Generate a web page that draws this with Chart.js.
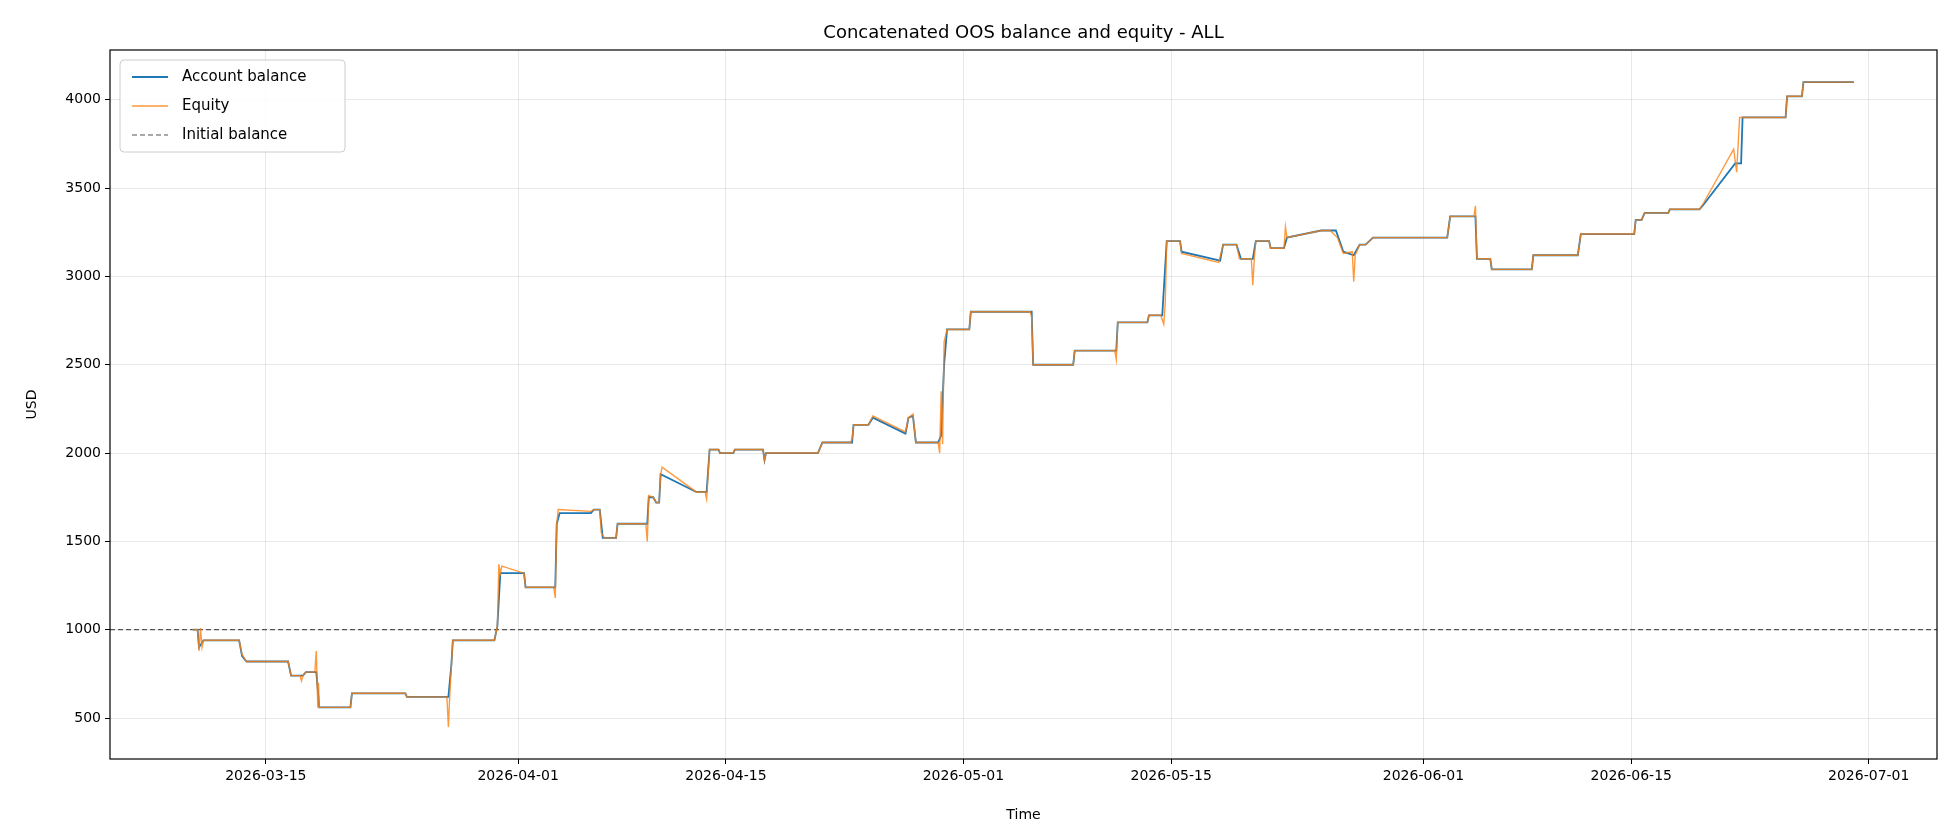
<!DOCTYPE html>
<html lang="en">
  <head>
    <meta charset="UTF-8" />
    <title>OOS balance and equity</title>
    <script src="https://cdn.jsdelivr.net/npm/chart.js@4"></script>
    <style>
      body { margin: 0; background: #fff; }
      #wrap { width: 1960px; height: 840px; }
    </style>
  </head>
  <body>
    <div id="wrap"><canvas id="myChart" width="1960" height="840"></canvas></div>
    <script>
    // days counted from 2026-03-01 (day 0)
    const balanceDays = [9.1,9.4,9.5,9.8,12.2,12.4,12.7,15.5,15.7,16.5,16.7,17.4,17.6,19.7,19.8,23.4,23.5,26.3,26.5,26.6,29.4,29.6,29.8,31.4,31.5,33.5,33.6,33.8,35.9,36.1,36.5,36.7,37.6,37.7,39.7,39.8,40.1,40.3,40.5,40.6,43.0,43.7,43.9,44.5,44.6,45.5,45.6,47.5,47.6,47.7,51.2,51.5,53.5,53.6,54.6,54.9,57.1,57.3,57.6,57.8,59.3,59.5,59.7,59.9,61.4,61.5,65.6,65.7,68.4,68.5,71.3,71.4,73.4,73.5,74.4,74.7,75.6,75.7,78.3,78.5,79.4,79.7,80.5,80.7,81.6,81.7,82.6,82.8,85.1,86.1,86.6,87.3,87.7,88.1,88.6,93.6,93.8,95.5,95.6,96.5,96.6,99.3,99.4,102.4,102.6,106.2,106.3,106.7,106.9,108.5,108.6,110.6,110.9,113.0,113.4,113.5,116.4,116.5,117.5,117.6,121.0];
    const balanceValues = [1000,1000,900,940,940,850,820,820,740,740,760,760,560,560,640,640,620,620,800,940,940,1020,1320,1320,1240,1240,1600,1660,1660,1680,1680,1520,1520,1600,1600,1750,1750,1720,1720,1880,1780,1780,2020,2020,2000,2000,2020,2020,1960,2000,2000,2060,2060,2160,2160,2200,2110,2200,2210,2060,2060,2100,2500,2700,2700,2800,2800,2500,2500,2580,2580,2740,2740,2780,2780,3200,3200,3140,3090,3180,3180,3100,3100,3200,3200,3160,3160,3220,3260,3260,3140,3120,3180,3180,3220,3220,3340,3340,3100,3100,3040,3040,3120,3120,3240,3240,3320,3320,3360,3360,3380,3380,3410,3640,3640,3900,3900,4020,4020,4100,4100];

    // equity as [day, USD] pairs
    const equityPoints = [[9.1,1000],[9.4,1000],[9.5,880],[9.6,1010],[9.7,900],[9.8,940],[12.2,940],[12.4,860],[12.7,820],[15.5,820],[15.7,740],[16.3,740],[16.4,710],[16.5,740],[16.7,760],[17.3,760],[17.4,880],[17.5,560],[17.55,700],[17.6,560],[19.7,560],[19.8,640],[23.4,640],[23.5,620],[26.2,620],[26.3,450],[26.4,640],[26.6,940],[29.4,940],[29.6,1020],[29.7,1370],[29.8,1320],[29.9,1360],[31.4,1320],[31.5,1240],[33.4,1240],[33.5,1180],[33.6,1600],[33.7,1680],[35.9,1670],[36.1,1680],[36.5,1680],[36.6,1550],[36.8,1520],[37.6,1520],[37.7,1600],[39.6,1600],[39.7,1500],[39.8,1760],[40.1,1750],[40.3,1720],[40.5,1720],[40.6,1880],[40.7,1920],[43.0,1780],[43.6,1780],[43.7,1740],[43.9,2020],[44.5,2020],[44.6,2000],[45.5,2000],[45.6,2020],[47.5,2020],[47.6,1960],[47.7,2000],[51.2,2000],[51.5,2060],[53.4,2060],[53.5,2080],[53.6,2160],[54.6,2160],[54.9,2210],[57.1,2120],[57.3,2200],[57.6,2220],[57.8,2060],[59.3,2060],[59.4,2000],[59.5,2350],[59.6,2050],[59.7,2630],[59.9,2700],[61.4,2700],[61.5,2800],[65.5,2800],[65.6,2770],[65.7,2500],[68.4,2500],[68.5,2580],[71.2,2580],[71.3,2530],[71.4,2740],[73.4,2740],[73.5,2780],[74.3,2780],[74.5,2730],[74.6,2850],[74.7,3200],[75.6,3200],[75.7,3130],[78.2,3080],[78.5,3180],[79.4,3180],[79.6,3100],[80.4,3100],[80.5,2950],[80.6,3100],[80.7,3200],[81.6,3200],[81.7,3160],[82.6,3160],[82.7,3280],[82.8,3220],[85.1,3260],[85.7,3260],[86.2,3220],[86.6,3130],[87.2,3140],[87.3,2970],[87.4,3120],[87.7,3180],[88.1,3180],[88.6,3220],[93.6,3220],[93.8,3340],[95.4,3340],[95.5,3400],[95.6,3100],[96.5,3100],[96.6,3040],[99.3,3040],[99.4,3120],[102.4,3120],[102.6,3240],[106.2,3240],[106.3,3320],[106.7,3320],[106.9,3360],[108.5,3360],[108.6,3380],[110.6,3380],[110.9,3420],[112.9,3720],[113.1,3590],[113.3,3900],[116.4,3900],[116.5,4020],[117.5,4020],[117.6,4100],[121.0,4100]];

    const initialBalance = 1000;
    const xTickDays = [14,31,45,61,75,92,106,122];
    const xTickLabels = ['2026-03-15','2026-04-01','2026-04-15','2026-05-01','2026-05-15','2026-06-01','2026-06-15','2026-07-01'];
    const yTicks = [500,1000,1500,2000,2500,3000,3500,4000];
    const xMin = 3.5, xMax = 126.6, yMin = 268, yMax = 4282;

    const FONT = 'DejaVu Sans';

    const frameAndTitle = {
      id: 'frameAndTitle',
      afterDraw(chart) {
        const c = chart.ctx, a = chart.chartArea;
        c.save();
        c.strokeStyle = '#000';
        c.lineWidth = 1.2;
        c.strokeRect(a.left, a.top, a.right - a.left, a.bottom - a.top);
        c.fillStyle = '#000';
        c.font = '18px ' + FONT;
        c.textAlign = 'center';
        c.textBaseline = 'bottom';
        c.fillText('Concatenated OOS balance and equity - ALL', (a.left + a.right) / 2, a.top - 8);
        // legend box
        const bx = a.left + 10, by = a.top + 10, bw = 225, bh = 92;
        c.fillStyle = 'rgba(255,255,255,0.85)';
        c.strokeStyle = '#cccccc';
        c.lineWidth = 1;
        c.beginPath();
        c.roundRect(bx, by, bw, bh, 4);
        c.fill(); c.stroke();
        c.font = '15px ' + FONT;
        c.textAlign = 'left';
        c.textBaseline = 'middle';
        chart.data.datasets.forEach((d, i) => {
          const y = by + 17 + i * 29;
          c.strokeStyle = d.borderColor;
          c.lineWidth = d.borderWidth;
          c.setLineDash(d.borderDash || []);
          c.beginPath(); c.moveTo(bx + 12, y); c.lineTo(bx + 48, y); c.stroke();
          c.setLineDash([]);
          c.fillStyle = '#000';
          c.fillText(d.label, bx + 62, y);
        });
        c.restore();
      }
    };

    new Chart(document.getElementById('myChart').getContext('2d'), {
      type: 'line',
      data: {
        datasets: [{
          label: 'Account balance',
          data: balanceDays.map((x, i) => ({x: x, y: balanceValues[i]})),
          borderColor: '#1f77b4',
          borderWidth: 1.8,
          pointRadius: 0,
          tension: 0,
          order: 2
        }, {
          label: 'Equity',
          data: equityPoints.map(p => ({x: p[0], y: p[1]})),
          borderColor: 'rgba(255,127,14,0.8)',
          borderWidth: 1.4,
          pointRadius: 0,
          tension: 0,
          order: 1
        }, {
          label: 'Initial balance',
          data: [{x: xMin, y: initialBalance}, {x: xMax, y: initialBalance}],
          borderColor: '#555555',
          borderWidth: 1.2,
          borderDash: [5, 3],
          pointRadius: 0,
          order: 3
        }]
      },
      options: {
        responsive: false,
        animation: false,
        events: [],
        layout: { padding: { top: 50, right: 23, left: 20, bottom: 12 } },
        plugins: { legend: { display: false }, tooltip: { enabled: false } },
        scales: {
          x: {
            type: 'linear', min: xMin, max: xMax,
            afterFit(s) { s.height = 69; },
            afterBuildTicks(s) { s.ticks = xTickDays.map(v => ({value: v})); },
            ticks: {
              color: '#000', font: { family: FONT, size: 14 }, maxRotation: 0, padding: 4,
              callback: (v) => xTickLabels[xTickDays.indexOf(v)]
            },
            grid: { color: 'rgba(0,0,0,0.09)', tickColor: '#000', tickLength: 5 },
            border: { display: false },
            title: { display: true, text: 'Time', color: '#000', font: { family: FONT, size: 14 }, padding: { top: 2 } }
          },
          y: {
            min: yMin, max: yMax,
            afterFit(s) { s.width = 90; },
            afterBuildTicks(s) { s.ticks = yTicks.map(v => ({value: v})); },
            ticks: { color: '#000', font: { family: FONT, size: 14 }, padding: 4, callback: (v) => String(v) },
            grid: { color: 'rgba(0,0,0,0.09)', tickColor: '#000', tickLength: 5 },
            border: { display: false },
            title: { display: true, text: 'USD', color: '#000', font: { family: FONT, size: 14 } }
          }
        }
      },
      plugins: [frameAndTitle]
    });
    </script>
  </body>
</html>
